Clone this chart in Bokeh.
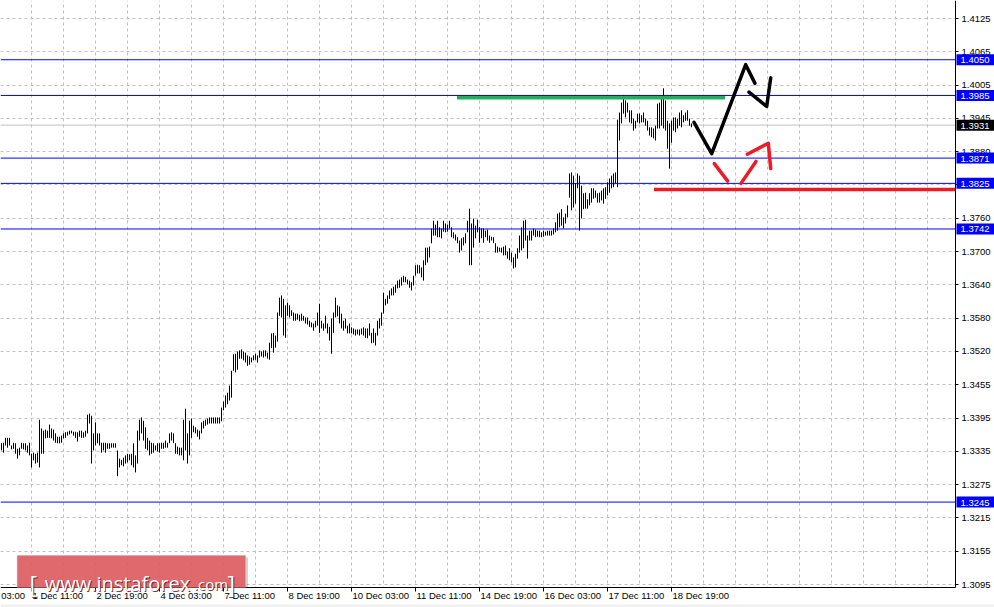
from bokeh.plotting import figure
from bokeh.models import (ColumnDataSource, LinearAxis, FixedTicker, Range1d, Grid,
                          Label, BoxAnnotation, CustomJSTickFormatter)
from bokeh.embed import file_html
from bokeh.resources import INLINE

# ---------------- data (hourly bars) ----------------
HIGHS = [
    1.3352, 1.3353, 1.3362, 1.3362, 1.3362, 1.3348, 1.3353, 1.3352, 1.3342, 1.3344,
    1.3353, 1.3352, 1.3352, 1.3348, 1.3353, 1.3333, 1.3335, 1.3333, 1.3335, 1.3395,
    1.3379, 1.3375, 1.3377, 1.3375, 1.3386, 1.3379, 1.3377, 1.3370, 1.3364, 1.3364,
    1.3366, 1.3370, 1.3372, 1.3373, 1.3375, 1.3375, 1.3373, 1.3373, 1.3372, 1.3375,
    1.3375, 1.3372, 1.3375, 1.3404, 1.3406, 1.3402, 1.3370, 1.3390, 1.3370, 1.3370,
    1.3353, 1.3353, 1.3353, 1.3352, 1.3352, 1.3352, 1.3352, 1.3352, 1.3339, 1.3324,
    1.3322, 1.3326, 1.3330, 1.3333, 1.3332, 1.3333, 1.3352, 1.3330, 1.3375, 1.3395,
    1.3399, 1.3393, 1.3381, 1.3362, 1.3357, 1.3353, 1.3352, 1.3348, 1.3352, 1.3352,
    1.3353, 1.3353, 1.3357, 1.3353, 1.3370, 1.3372, 1.3370, 1.3352, 1.3346, 1.3344,
    1.3344, 1.3395, 1.3415, 1.3370, 1.3393, 1.3397, 1.3384, 1.3381, 1.3377, 1.3375,
    1.3390, 1.3393, 1.3395, 1.3397, 1.3399, 1.3399, 1.3399, 1.3399, 1.3399, 1.3399,
    1.3417, 1.3428, 1.3439, 1.3444, 1.3457, 1.3484, 1.3514, 1.3515, 1.3519, 1.3521,
    1.3523, 1.3519, 1.3517, 1.3512, 1.3510, 1.3508, 1.3512, 1.3515, 1.3512, 1.3521,
    1.3519, 1.3521, 1.3521, 1.3517, 1.3535, 1.3552, 1.3553, 1.3548, 1.3590, 1.3617,
    1.3621, 1.3615, 1.3603, 1.3608, 1.3603, 1.3594, 1.3590, 1.3588, 1.3588, 1.3586,
    1.3588, 1.3584, 1.3581, 1.3581, 1.3575, 1.3572, 1.3570, 1.3575, 1.3590, 1.3606,
    1.3575, 1.3570, 1.3584, 1.3570, 1.3564, 1.3579, 1.3590, 1.3617, 1.3603, 1.3601,
    1.3588, 1.3575, 1.3579, 1.3566, 1.3570, 1.3563, 1.3561, 1.3559, 1.3559, 1.3559,
    1.3561, 1.3563, 1.3561, 1.3561, 1.3570, 1.3553, 1.3561, 1.3553, 1.3575, 1.3579,
    1.3590, 1.3626, 1.3615, 1.3621, 1.3630, 1.3634, 1.3637, 1.3641, 1.3648, 1.3650,
    1.3654, 1.3657, 1.3655, 1.3650, 1.3648, 1.3645, 1.3657, 1.3676, 1.3677, 1.3676,
    1.3672, 1.3685, 1.3708, 1.3708, 1.3710, 1.3743, 1.3757, 1.3750, 1.3757, 1.3745,
    1.3743, 1.3757, 1.3752, 1.3750, 1.3757, 1.3745, 1.3736, 1.3732, 1.3727, 1.3721,
    1.3725, 1.3727, 1.3734, 1.3757, 1.3779, 1.3752, 1.3761, 1.3748, 1.3759, 1.3745,
    1.3743, 1.3743, 1.3739, 1.3741, 1.3730, 1.3728, 1.3727, 1.3716, 1.3710, 1.3708,
    1.3708, 1.3710, 1.3712, 1.3701, 1.3707, 1.3699, 1.3690, 1.3697, 1.3707, 1.3730,
    1.3745, 1.3757, 1.3759, 1.3730, 1.3739, 1.3739, 1.3743, 1.3741, 1.3739, 1.3739,
    1.3736, 1.3739, 1.3737, 1.3739, 1.3739, 1.3739, 1.3743, 1.3754, 1.3770, 1.3772,
    1.3778, 1.3763, 1.3770, 1.3785, 1.3843, 1.3845, 1.3839, 1.3825, 1.3843, 1.3839,
    1.3821, 1.3807, 1.3808, 1.3796, 1.3807, 1.3816, 1.3816, 1.3812, 1.3807, 1.3808,
    1.3812, 1.3816, 1.3818, 1.3827, 1.3834, 1.3839, 1.3843, 1.3845, 1.3941, 1.3954,
    1.3972, 1.3985, 1.3976, 1.3972, 1.3958, 1.3958, 1.3943, 1.3939, 1.3952, 1.3952,
    1.3949, 1.3954, 1.3943, 1.3939, 1.3927, 1.3927, 1.3925, 1.3930, 1.3970, 1.3972,
    1.3979, 1.3998, 1.3976, 1.3939, 1.3934, 1.3939, 1.3945, 1.3945, 1.3943, 1.3954,
    1.3958, 1.3949, 1.3954, 1.3958, 1.3943, 1.3934,
]
LOWS = [
    1.3339, 1.3335, 1.3348, 1.3344, 1.3348, 1.3341, 1.3342, 1.3333, 1.3324, 1.3330,
    1.3342, 1.3341, 1.3339, 1.3335, 1.3330, 1.3308, 1.3321, 1.3315, 1.3317, 1.3308,
    1.3333, 1.3333, 1.3361, 1.3362, 1.3362, 1.3361, 1.3357, 1.3353, 1.3352, 1.3352,
    1.3353, 1.3361, 1.3362, 1.3366, 1.3368, 1.3370, 1.3366, 1.3362, 1.3355, 1.3364,
    1.3362, 1.3362, 1.3364, 1.3370, 1.3388, 1.3315, 1.3339, 1.3348, 1.3352, 1.3348,
    1.3335, 1.3339, 1.3335, 1.3342, 1.3342, 1.3344, 1.3344, 1.3344, 1.3292, 1.3308,
    1.3312, 1.3310, 1.3315, 1.3317, 1.3321, 1.3312, 1.3308, 1.3299, 1.3315, 1.3357,
    1.3370, 1.3357, 1.3342, 1.3339, 1.3330, 1.3333, 1.3335, 1.3339, 1.3337, 1.3335,
    1.3342, 1.3342, 1.3344, 1.3344, 1.3352, 1.3357, 1.3352, 1.3333, 1.3332, 1.3330,
    1.3330, 1.3321, 1.3339, 1.3315, 1.3330, 1.3362, 1.3372, 1.3370, 1.3364, 1.3359,
    1.3370, 1.3379, 1.3384, 1.3386, 1.3388, 1.3388, 1.3388, 1.3388, 1.3388, 1.3388,
    1.3392, 1.3412, 1.3417, 1.3423, 1.3430, 1.3435, 1.3484, 1.3481, 1.3486, 1.3506,
    1.3506, 1.3503, 1.3499, 1.3493, 1.3495, 1.3499, 1.3503, 1.3504, 1.3499, 1.3508,
    1.3510, 1.3508, 1.3510, 1.3506, 1.3504, 1.3525, 1.3517, 1.3526, 1.3537, 1.3584,
    1.3581, 1.3548, 1.3544, 1.3584, 1.3581, 1.3584, 1.3575, 1.3575, 1.3577, 1.3574,
    1.3575, 1.3575, 1.3570, 1.3568, 1.3564, 1.3563, 1.3557, 1.3563, 1.3566, 1.3553,
    1.3561, 1.3557, 1.3561, 1.3552, 1.3539, 1.3515, 1.3553, 1.3581, 1.3583, 1.3570,
    1.3561, 1.3557, 1.3561, 1.3552, 1.3552, 1.3552, 1.3550, 1.3548, 1.3550, 1.3548,
    1.3550, 1.3548, 1.3544, 1.3543, 1.3548, 1.3534, 1.3535, 1.3530, 1.3548, 1.3561,
    1.3566, 1.3588, 1.3603, 1.3606, 1.3615, 1.3621, 1.3621, 1.3626, 1.3634, 1.3635,
    1.3639, 1.3645, 1.3645, 1.3641, 1.3635, 1.3630, 1.3639, 1.3657, 1.3661, 1.3661,
    1.3654, 1.3648, 1.3676, 1.3681, 1.3690, 1.3716, 1.3730, 1.3730, 1.3727, 1.3727,
    1.3725, 1.3737, 1.3736, 1.3737, 1.3743, 1.3727, 1.3725, 1.3721, 1.3716, 1.3699,
    1.3703, 1.3712, 1.3716, 1.3736, 1.3676, 1.3676, 1.3708, 1.3725, 1.3736, 1.3717,
    1.3725, 1.3717, 1.3727, 1.3721, 1.3717, 1.3721, 1.3716, 1.3699, 1.3699, 1.3701,
    1.3699, 1.3694, 1.3694, 1.3688, 1.3685, 1.3681, 1.3670, 1.3672, 1.3688, 1.3699,
    1.3703, 1.3707, 1.3721, 1.3688, 1.3721, 1.3721, 1.3730, 1.3727, 1.3728, 1.3727,
    1.3727, 1.3728, 1.3730, 1.3730, 1.3730, 1.3730, 1.3732, 1.3736, 1.3739, 1.3745,
    1.3748, 1.3743, 1.3752, 1.3763, 1.3799, 1.3776, 1.3781, 1.3788, 1.3816, 1.3739,
    1.3761, 1.3778, 1.3779, 1.3779, 1.3785, 1.3790, 1.3797, 1.3799, 1.3790, 1.3790,
    1.3794, 1.3788, 1.3797, 1.3803, 1.3808, 1.3816, 1.3818, 1.3825, 1.3818, 1.3903,
    1.3934, 1.3952, 1.3945, 1.3954, 1.3936, 1.3934, 1.3921, 1.3925, 1.3936, 1.3934,
    1.3936, 1.3936, 1.3930, 1.3921, 1.3912, 1.3909, 1.3907, 1.3903, 1.3925, 1.3925,
    1.3930, 1.3925, 1.3921, 1.3888, 1.3852, 1.3899, 1.3921, 1.3918, 1.3925, 1.3930,
    1.3927, 1.3936, 1.3939, 1.3939, 1.3930, 1.3927,
]

Y_TICK_LABELS = ["1.3095", "1.3155", "1.3215", "1.3275", "1.3335", "1.3395",
                 "1.3455", "1.3520", "1.3580", "1.3640", "1.3700", "1.3760",
                 "1.3820", "1.3880", "1.3945", "1.4005", "1.4065", "1.4125"]
X_TICK_LABELS = ["30 Nov 03:00", "1 Dec 11:00", "2 Dec 19:00", "4 Dec 03:00",
                 "7 Dec 11:00", "8 Dec 19:00", "10 Dec 03:00", "11 Dec 11:00",
                 "14 Dec 19:00", "16 Dec 03:00", "17 Dec 11:00", "18 Dec 19:00"]
FIRST_LABEL_BAR = -17
BARS_PER_LABEL = 32
BARS_PER_GRID = 16

BLUE_LEVELS = [1.4050, 1.3985, 1.3871, 1.3825, 1.3742, 1.3245]
CURRENT_PRICE = 1.3931

GREEN_X = [227.75, 361.75]
GREEN_Y = [1.3981, 1.3981]
RED_X_START = 326.25
RED_LEVEL = 1.3814
BLACK_PATHS_X = [[346.25, 355.1, 372.1, 376.75], [373.75, 382.6, 384.6]]
BLACK_PATHS_Y = [[1.3936, 1.3879, 1.4041, 1.4007], [1.3991, 1.3965, 1.4017]]
RED_PATHS_X = [[356.4, 363.1], [369.75, 377.25], [372.9, 383.4, 384.6]]
RED_PATHS_Y = [[1.3861, 1.3829], [1.3825, 1.3865], [1.3878, 1.3898, 1.3852]]

# ---------------- layout (data coordinates of the chart area) ----------------
X_LO, X_HI = -0.5, 496.5          # whole canvas, 2 px per hourly bar
X_EDGE = 477.0                    # right border of the price area
Y_HI, Y_LO = 1.41578, 1.305316    # whole canvas
Y_EDGE = 1.308957                 # bottom border of the price area
PX_Y = (Y_HI - Y_LO) / 607.0      # price per screen pixel
AXIS_FONT = "Liberation Sans"
AXIS_SIZE = "9.5px"

p = figure(width=994, height=607,
           x_range=Range1d(X_LO, X_HI), y_range=Range1d(Y_LO, Y_HI),
           output_backend="svg", toolbar_location=None,
           x_axis_location=None, y_axis_location=None,
           min_border_left=0, min_border_top=0, min_border_right=0, min_border_bottom=0,
           background_fill_color="white", border_fill_color="white",
           outline_line_color=None)
p.center = [c for c in p.center if not isinstance(c, Grid)]

n_bars = len(HIGHS)
x_ticks = [FIRST_LABEL_BAR + BARS_PER_LABEL * k for k in range(len(X_TICK_LABELS))]
x_grid = list(range(FIRST_LABEL_BAR, int(X_EDGE), BARS_PER_GRID))
y0, y1 = float(Y_TICK_LABELS[0]), float(Y_TICK_LABELS[-1])
y_ticks = [y0 + k * (y1 - y0) / (len(Y_TICK_LABELS) - 1) for k in range(len(Y_TICK_LABELS))]

p.add_layout(Grid(dimension=0, ticker=FixedTicker(ticks=x_grid),
                  grid_line_color="#c0c0c0", grid_line_dash="3 3"))
p.add_layout(Grid(dimension=1, ticker=FixedTicker(ticks=y_ticks),
                  grid_line_color="#c0c0c0", grid_line_dash="3 3"))
# white margins (scale areas) over the grid
p.add_layout(BoxAnnotation(left=X_EDGE, right=X_HI, top=Y_HI, bottom=Y_LO,
                           fill_color="white", fill_alpha=1, line_color=None, level="underlay"))
p.add_layout(BoxAnnotation(left=X_LO, right=X_HI, top=Y_EDGE, bottom=Y_LO,
                           fill_color="white", fill_alpha=1, line_color=None, level="underlay"))
# bottom window strip
p.add_layout(BoxAnnotation(left=X_LO, right=X_HI, top=Y_LO + 3 * PX_Y, bottom=Y_LO,
                           fill_color="#f0f0f0", fill_alpha=1, line_color=None, level="underlay"))

xaxis = LinearAxis(ticker=FixedTicker(ticks=x_ticks), fixed_location=Y_EDGE,
                   bounds=(X_LO, X_EDGE),
                   formatter=CustomJSTickFormatter(code="return '';"))
xaxis.major_tick_out = 4
xaxis.major_tick_in = 0
xaxis.minor_tick_out = 0
xaxis.minor_tick_in = 0
xaxis.axis_line_color = "black"
xaxis.major_tick_line_color = "black"
p.add_layout(xaxis, "below")

yaxis = LinearAxis(ticker=FixedTicker(ticks=y_ticks), fixed_location=X_EDGE,
                   bounds=(Y_EDGE, Y_HI),
                   formatter=CustomJSTickFormatter(args=dict(labels=Y_TICK_LABELS),
                                                   code="return labels[index];"))
yaxis.major_tick_out = 3
yaxis.major_tick_in = 0
yaxis.minor_tick_out = 0
yaxis.minor_tick_in = 0
yaxis.major_label_standoff = 3
yaxis.major_label_text_font = AXIS_FONT
yaxis.major_label_text_font_size = AXIS_SIZE
yaxis.major_label_text_color = "black"
yaxis.axis_line_color = "black"
p.add_layout(yaxis, "right")

# time labels, left-aligned at their ticks as the terminal draws them
for tx, txt in zip(x_ticks, X_TICK_LABELS):
    p.add_layout(Label(x=tx, y=Y_EDGE, x_offset=1, y_offset=-3, text=txt,
                       text_font=AXIS_FONT, text_font_size=AXIS_SIZE, text_color="black",
                       text_align="left", text_baseline="top"))

# horizontal levels (stop at the price area's border)
p.segment(x0=[X_LO], y0=[CURRENT_PRICE], x1=[X_EDGE], y1=[CURRENT_PRICE],
          line_color="#c0c0c0", line_width=1)
p.segment(x0=[X_LO] * len(BLUE_LEVELS), y0=BLUE_LEVELS,
          x1=[X_EDGE] * len(BLUE_LEVELS), y1=BLUE_LEVELS,
          line_color="#0000ff", line_width=1)

# bars
src = ColumnDataSource(dict(x=list(range(n_bars)), high=HIGHS, low=LOWS))
p.segment(x0="x", y0="low", x1="x", y1="high", source=src, line_color="black", line_width=1)

# drawn lines
p.line(GREEN_X, GREEN_Y, line_color="#22b14c", line_width=3.5)
p.line([RED_X_START, X_EDGE], [RED_LEVEL, RED_LEVEL], line_color="#ed1c24", line_width=3.5)
p.multi_line(BLACK_PATHS_X, BLACK_PATHS_Y, line_color="black", line_width=3.5,
             line_join="round", line_cap="round")
p.multi_line(RED_PATHS_X, RED_PATHS_Y, line_color="#ed1c24", line_width=3.5,
             line_join="round", line_cap="round")

# price boxes on the right scale
box_x = X_EDGE + 0.5
for lv, bg in [(v, "#0000ff") for v in BLUE_LEVELS] + [(CURRENT_PRICE, "black")]:
    p.add_layout(Label(x=box_x, y=lv, text=f"{lv:.4f}", text_color="white",
                       text_font=AXIS_FONT, text_font_size=AXIS_SIZE,
                       text_align="left", text_baseline="middle",
                       background_fill_color=bg,
                       padding=dict(left=4, right=20, top=3, bottom=2)))

# logo (box, shadow, text)
LOGO_L, LOGO_R, LOGO_T, LOGO_B = 7.85, 122.0, 1.31478, 1.30896
p.add_layout(BoxAnnotation(left=LOGO_R, right=LOGO_R + 1.25,
                           top=LOGO_T - 2 * PX_Y, bottom=LOGO_B,
                           fill_color="#808080", fill_alpha=0.35, line_color=None,
                           level="overlay"))
p.add_layout(BoxAnnotation(left=LOGO_L, right=LOGO_R, top=LOGO_T, bottom=LOGO_B,
                           fill_color="#dc5c60", fill_alpha=0.92,
                           line_color="#e88a8c", line_width=1, level="overlay"))
logo_base = 1.30968
for tx, txt, size in [(14.0, "[", "23px"), (21.6, "www.instaforex", "20px"),
                      (96.3, ".com", "15px"), (113.0, "]", "23px")]:
    p.add_layout(Label(x=tx, y=logo_base, x_offset=1, y_offset=-1, text=txt,
                       text_color="#6e1c1f", text_alpha=0.9,
                       text_font="Open Sans", text_font_size=size,
                       text_align="left", text_baseline="alphabetic", level="overlay"))
    p.add_layout(Label(x=tx, y=logo_base, text=txt, text_color="white",
                       text_font="Open Sans", text_font_size=size,
                       text_align="left", text_baseline="alphabetic", level="overlay"))

open("out.html", "w").write(file_html(p, INLINE))
